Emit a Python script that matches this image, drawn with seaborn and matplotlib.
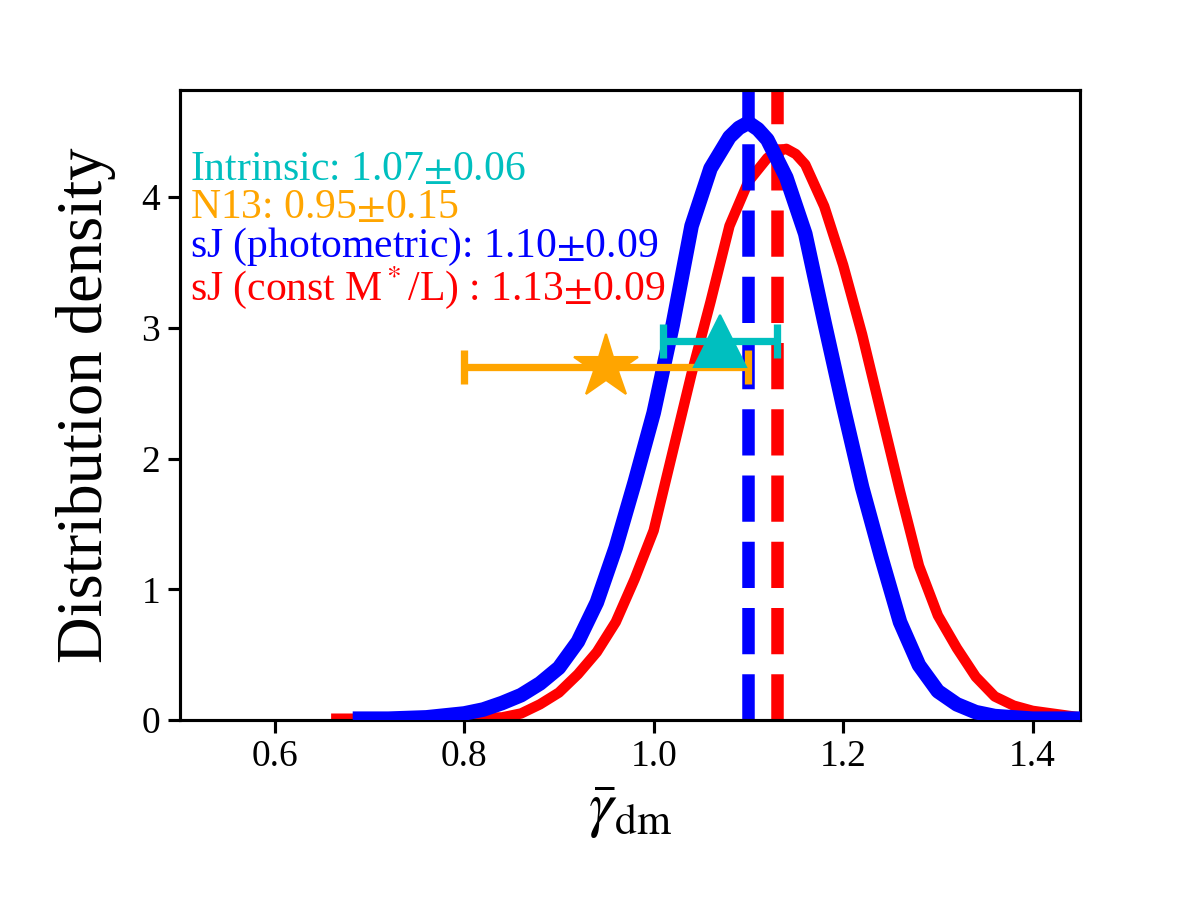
import matplotlib
matplotlib.use("Agg")
import matplotlib.pyplot as plt
import seaborn as sns
import numpy as np

# density curves
gamma_phot = [0.69, 0.72, 0.76, 0.80, 0.82, 0.84, 0.86, 0.88, 0.90, 0.92, 0.94, 0.96,
              0.98, 1.00, 1.02, 1.04, 1.06, 1.08, 1.09, 1.10, 1.11, 1.12, 1.14, 1.16,
              1.18, 1.20, 1.22, 1.24, 1.26, 1.28, 1.30, 1.32, 1.34, 1.36, 1.40, 1.45]
dens_phot = [0.01, 0.01, 0.02, 0.05, 0.08, 0.13, 0.19, 0.28, 0.40, 0.60, 0.90, 1.32,
             1.82, 2.35, 3.02, 3.78, 4.22, 4.46, 4.53, 4.57, 4.52, 4.44, 4.15, 3.72,
             3.05, 2.40, 1.78, 1.25, 0.75, 0.42, 0.22, 0.12, 0.06, 0.03, 0.01, 0.01]

gamma_const = [0.665, 0.70, 0.76, 0.80, 0.84, 0.86, 0.88, 0.90, 0.92, 0.94, 0.96, 0.98,
               1.00, 1.02, 1.04, 1.06, 1.08, 1.10, 1.12, 1.13, 1.14, 1.15, 1.16, 1.18,
               1.20, 1.22, 1.24, 1.26, 1.28, 1.30, 1.32, 1.34, 1.36, 1.38, 1.40, 1.45]
dens_const = [0.01, 0.01, 0.01, 0.01, 0.02, 0.05, 0.12, 0.21, 0.35, 0.52, 0.75, 1.08,
              1.45, 2.05, 2.65, 3.20, 3.78, 4.12, 4.30, 4.35, 4.37, 4.33, 4.25, 3.93,
              3.48, 2.95, 2.35, 1.75, 1.18, 0.80, 0.55, 0.33, 0.18, 0.11, 0.07, 0.02]

# medians of the two posteriors
median_phot = 1.10
median_const = 1.13

# literature points: (value, error, y position)
intrinsic = (1.07, 0.06, 2.9)
n13 = (0.95, 0.15, 2.7)

labels = ["Intrinsic: 1.07$\\pm$0.06",
          "N13: 0.95$\\pm$0.15",
          "sJ (photometric): 1.10$\\pm$0.09",
          "sJ (const M$^*$/L) : 1.13$\\pm$0.09"]
label_colors = ["c", "orange", "b", "r"]
label_y = [4.21, 3.92, 3.62, 3.31]

plt.rcParams['font.family'] = ['Liberation Serif', 'DejaVu Serif']
plt.rcParams['mathtext.fontset'] = 'stix'

fig, ax = plt.subplots(figsize=(8, 6), dpi=150)
fig.subplots_adjust(left=0.15, right=0.9, bottom=0.2, top=0.9)

sns.lineplot(x=gamma_const, y=dens_const, ax=ax, color='r', lw=5, zorder=2)
ax.axvline(median_const, color='r', ls='--', lw=6, zorder=1)
sns.lineplot(x=gamma_phot, y=dens_phot, ax=ax, color='b', lw=7, zorder=3)
ax.axvline(median_phot, color='b', ls='--', lw=6, zorder=2.5)

ax.errorbar(n13[0], n13[2], xerr=n13[1], fmt='*', color='orange', ms=32,
            lw=3.5, capsize=8, capthick=3.5, zorder=5)
ax.errorbar(intrinsic[0], intrinsic[2], xerr=intrinsic[1], fmt='^', color='c', ms=25,
            lw=3.5, capsize=8, capthick=3.5, zorder=5)

for txt, col, yy in zip(labels, label_colors, label_y):
    ax.text(0.511, yy, txt, color=col, fontsize=20, va='center', ha='left')

ax.set_xlim(0.5, 1.45)
ax.set_ylim(0, 4.82)
ax.set_xticks([0.6, 0.8, 1.0, 1.2, 1.4])
ax.set_yticks([0, 1, 2, 3, 4])
ax.tick_params(labelsize=18, width=1.5, length=6)
for s in ax.spines.values():
    s.set_linewidth(1.5)
ax.set_xlabel(r'$\bar{\gamma}_{\rm dm}$', fontsize=30)
ax.set_ylabel('Distribution density', fontsize=31, labelpad=12)

fig.savefig('out.png', dpi=150)
